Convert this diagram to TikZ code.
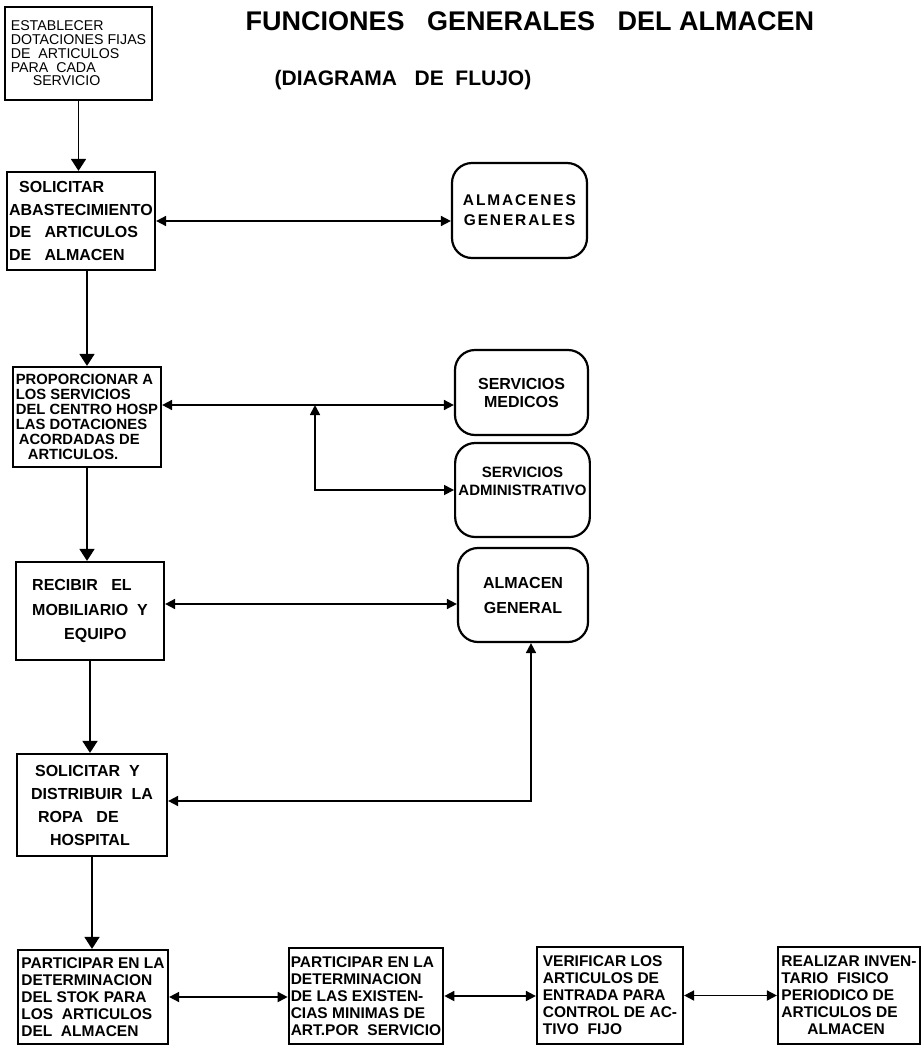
\documentclass[tikz,border=0pt]{standalone}
\usepackage{fontspec}
\setmainfont{Liberation Sans}
\usetikzlibrary{arrows.meta,calc}

\begin{document}
\begin{tikzpicture}[x=1pt, y=-1pt, line width=1.7pt,
    >={Triangle[width=10pt,length=10pt]},
    caja/.style={draw, line width=2.2pt, inner sep=2pt, align=left,
        font=\fontsize{15.5}{17}\selectfont\bfseries},
    redonda/.style={draw, line width=2.2pt, rounded corners=20pt, align=center,
        font=\fontsize{16}{18}\selectfont\bfseries},
    baja/.style={-{Triangle[width=15pt,length=12pt]}}]
    % Page
    \useasboundingbox (0,0) rectangle (922,1047);

    % Title
    \node[font=\fontsize{27}{30}\selectfont\bfseries] (titulo) at (530,21)
        {FUNCIONES\ \ \ GENERALES\ \ \ DEL\ ALMACEN};
    \node[font=\fontsize{21}{26}\selectfont\bfseries] (subtitulo) at (403,80)
        {(DIAGRAMA\ \ \ DE\ \ FLUJO)};

    % Left column
    \node[caja, minimum width=147pt, minimum height=93pt,
        font=\fontsize{14.2}{13.8}\selectfont] (est) at (78.5,53.5)
        {ESTABLECER\\DOTACIONES FIJAS\\DE\ \ ARTICULOS\\PARA\ \ CADA\\\hspace*{22pt}SERVICIO};
    \node[caja, minimum width=148pt, minimum height=98pt,
        font=\fontsize{16}{22.5}\selectfont\bfseries] (sol) at (81,221)
        {\hspace*{10pt}SOLICITAR\\ABASTECIMIENTO\\DE\ \ \ ARTICULOS\\DE\ \ \ ALMACEN};
    \node[caja, minimum width=148pt, minimum height=100pt,
        font=\fontsize{14.8}{15}\selectfont\bfseries] (prop) at (87,417)
        {PROPORCIONAR A\\LOS SERVICIOS\\DEL CENTRO HOSP\\LAS DOTACIONES\\\hspace*{3pt}ACORDADAS DE\\\hspace*{12pt}ARTICULOS.};
    \node[caja, minimum width=148pt, minimum height=98pt,
        font=\fontsize{16}{24.5}\selectfont\bfseries] (rec) at (90,611)
        {RECIBIR\ \ \ EL\\MOBILIARIO\ \ Y\\\hspace*{32pt}EQUIPO};
    \node[caja, minimum width=150pt, minimum height=102pt,
        font=\fontsize{16}{23}\selectfont\bfseries] (ropa) at (92,805)
        {\hspace*{4pt}SOLICITAR\ \ Y\\DISTRIBUIR\ \ LA\\\hspace*{7pt}ROPA\ \ \ DE\\\hspace*{19pt}HOSPITAL};

    % Right column
    \node[redonda, minimum width=135pt, minimum height=95pt,
        font=\fontsize{15.5}{20}\selectfont\bfseries\addfontfeatures{LetterSpace=12}] (almgs) at (519.5,210.5)
        {ALMACENES\\GENERALES};
    \node[redonda, minimum width=133pt, minimum height=85pt] (med) at (521.5,392.5)
        {SERVICIOS\\MEDICOS};
    \node[redonda, minimum width=131pt, minimum height=94pt,
        font=\fontsize{15}{18}\selectfont\bfseries] (adm) at (522.5,490)
        {SERVICIOS\\ADMINISTRATIVO\\\mbox{}};
    \node[redonda, minimum width=130pt, minimum height=94pt,
        font=\fontsize{16}{25}\selectfont\bfseries] (almg) at (523,595)
        {ALMACEN\\GENERAL};

    % Bottom row
    \node[caja, minimum width=150pt, minimum height=94pt] (stok) at (93,997)
        {PARTICIPAR EN LA\\DETERMINACION\\DEL STOK PARA\\LOS\ \ ARTICULOS\\DEL\ \ ALMACEN};
    \node[caja, minimum width=146pt, minimum height=96pt] (exist) at (366,996)
        {PARTICIPAR EN LA\\DETERMINACION\\DE LAS EXISTEN-\\CIAS MINIMAS DE\\ART.POR\ \ SERVICIO};
    \node[caja, minimum width=146pt, minimum height=97pt] (verif) at (610,995.5)
        {VERIFICAR LOS\\ARTICULOS DE\\ENTRADA PARA\\CONTROL DE AC-\\TIVO\ \ FIJO};
    \node[caja, minimum width=142pt, minimum height=97pt] (inv) at (849,995.5)
        {REALIZAR INVEN-\\TARIO\ \ FISICO\\PERIODICO DE\\ARTICULOS DE\\\hspace*{26pt}ALMACEN};

    % Main flow
    \draw[baja] (est.south) -- (est.south |- sol.north);
    \draw[baja] (sol.south -| prop.north) -- (prop.north);
    \draw[baja] (prop.south) -- (prop.south |- rec.north);
    \draw[baja] (rec.south) -- (rec.south |- ropa.north);
    \draw[baja] (ropa.south) -- (ropa.south |- stok.north);

    % Links to the right
    \draw[<->] (sol.east) -- (sol.east -| almgs.west);
    \coordinate (p1) at ([yshift=12pt]prop.east);
    \draw[<->] (p1) -- (p1 -| med.west);
    \coordinate (nudo) at (315,405);
    \draw[<->] (nudo) |- (adm.west);
    \coordinate (r1) at ([yshift=7pt]rec.east);
    \draw[<->] (r1) -- (r1 -| almg.west);
    \coordinate (r2) at ([yshift=4pt]ropa.east);
    \draw[<->] (r2) -| ([xshift=8pt]almg.south);

    % Bottom links
    \draw[<->] (stok.east) -- (stok.east -| exist.west);
    \draw[<->] (exist.east) -- (exist.east -| verif.west);
    \draw[<->] (verif.east) -- (verif.east -| inv.west);
\end{tikzpicture}
\end{document}
